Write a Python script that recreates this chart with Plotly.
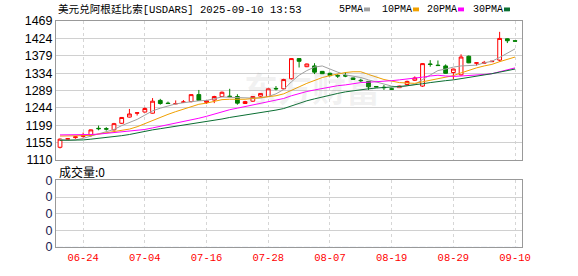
import pandas as pd
import plotly.graph_objects as go

# ---------------- data ----------------
dates = [d.strftime("%m-%d") for d in pd.bdate_range("2025-06-19", "2025-09-10")]

open_ = [1143,1164,1168,1171,1174,1192,1191,1188,1205,1221,
         1231,1234,1231,1264,1257,1255,1259,1261,1279,1259,
         1265,1274,1275,1274,1256,1262,1275,1274,1295,1294,
         1320,1372,1351,1353,1339,1334,1328,1328,1322,1316,
         1313,1300,1298,1294,1297,1305,1316,1301,1358,1355,
         1353,1336,1330,1378,1360,1360,1364,1368,1423,1418]
high = [1166,1167,1172,1181,1189,1199,1195,1206,1221,1242,
        1232,1246,1270,1268,1261,1264,1265,1280,1291,1264,
        1276,1287,1294,1280,1263,1275,1283,1295,1301,1320,
        1373,1373,1359,1360,1340,1336,1332,1337,1323,1320,
        1314,1300,1304,1295,1302,1315,1326,1360,1368,1367,
        1357,1346,1383,1380,1362,1366,1366,1441,1424,1418]
low = [1140,1164,1165,1168,1170,1187,1186,1186,1203,1220,
       1225,1233,1230,1253,1255,1254,1258,1259,1263,1255,
       1257,1273,1272,1253,1255,1260,1273,1273,1290,1293,
       1318,1349,1350,1332,1332,1326,1322,1324,1317,1311,
       1291,1298,1291,1292,1296,1304,1314,1299,1351,1353,
       1333,1318,1328,1360,1354,1359,1363,1364,1412,1417]
close = [1164,1165,1170,1174,1188,1191,1190,1204,1220,1229,
         1232,1243,1262,1256,1256,1256,1260,1279,1264,1263,
         1274,1285,1274,1257,1261,1274,1282,1294,1294,1318,
         1372,1365,1358,1337,1333,1328,1327,1327,1318,1315,
         1299,1299,1297,1293,1301,1313,1322,1359,1357,1354,
         1334,1345,1376,1361,1361,1362,1365,1424,1418,1417]

ma5 = [1164,1161,1162,1166,1172,1178,1183,1189,1199,1207,
       1215,1226,1237,1244,1250,1255,1258,1261,1263,1264,
       1268,1273,1272,1271,1270,1270,1270,1274,1281,1292,
       1312,1329,1341,1350,1353,1344,1337,1330,1327,1323,
       1317,1312,1306,1301,1298,1301,1305,1318,1330,1341,
       1345,1350,1353,1354,1355,1361,1365,1375,1386,1397]
ma10 = [1172,1172,1172,1173,1174,1177,1180,1183,1186,1190,
        1196,1204,1213,1222,1228,1235,1242,1249,1254,1257,
        1261,1266,1267,1267,1267,1269,1271,1273,1276,1281,
        1291,1299,1308,1316,1323,1328,1333,1336,1338,1338,
        1331,1324,1318,1314,1310,1309,1308,1312,1316,1319,
        1323,1328,1335,1342,1348,1353,1357,1364,1370,1376]
ma20 = [1175,1175,1175,1176,1176,1177,1179,1181,1183,1185,
        1187,1189,1193,1197,1201,1205,1209,1214,1218,1223,
        1229,1235,1240,1244,1248,1252,1257,1261,1265,1269,
        1276,1282,1287,1291,1295,1299,1302,1304,1307,1310,
        1311,1312,1313,1315,1317,1319,1321,1324,1327,1329,
        1327,1326,1327,1328,1329,1331,1333,1338,1343,1348]
ma30 = [1161,1161,1161,1162,1164,1166,1168,1171,1173,1176,
        1180,1185,1188,1191,1194,1197,1200,1203,1206,1209,
        1213,1216,1220,1223,1226,1229,1232,1236,1239,1243,
        1250,1256,1263,1268,1273,1277,1282,1286,1289,1292,
        1294,1296,1297,1299,1300,1302,1304,1307,1310,1313,
        1315,1317,1320,1324,1327,1330,1333,1337,1341,1345]
volume = [0] * len(dates)

price_ticks = [1110, 1154.875, 1199.75, 1244.625, 1289.5, 1334.375, 1379.25, 1424.125, 1469]
price_tick_labels = ["1110", "1155", "1199", "1244", "1289", "1334", "1379", "1424", "1469"]
x_tick_labels = ["06-24", "07-04", "07-16", "07-28", "08-07", "08-19", "08-29", "09-10"]
vol_ticks = [0, 1, 2, 3, 4]
vol_tick_labels = ["0", "0", "0", "0", "0"]

title_text = "美元兑阿根廷比索[USDARS] 2025-09-10 13:53"
vol_title = "成交量:0"
ma_names = ["5PMA", "10PMA", "20PMA", "30PMA"]
ma_colors = ["#a0a0a0", "#f0a000", "#ff00ff", "#0a6e32"]

# ---------------- figure ----------------
W, H = 578, 276
ML, MR, MT, MB = 56, 56, 21, 21
PW, PH = W - ML - MR, H - MT - MB

def px(x):
    return (x - ML) / PW

def py(y):
    return (H - MB - y) / PH

fig = go.Figure()

fig.add_trace(go.Candlestick(
    x=dates, open=open_, high=high, low=low, close=close,
    increasing=dict(line=dict(color="#ff0000", width=1), fillcolor="#ffffff"),
    decreasing=dict(line=dict(color="#008000", width=1), fillcolor="#008000"),
    whiskerwidth=0, xaxis="x", yaxis="y", showlegend=False, hoverinfo="skip",
))
for name, vals, col in zip(ma_names, [ma5, ma10, ma20, ma30], ma_colors):
    fig.add_trace(go.Scatter(x=dates, y=vals, mode="lines", name=name,
                             line=dict(color=col, width=1), xaxis="x", yaxis="y",
                             showlegend=False, hoverinfo="skip"))

fig.add_trace(go.Bar(x=dates, y=volume, xaxis="x2", yaxis="y2",
                     marker_color="#ff0000", showlegend=False, hoverinfo="skip"))

tickvals_x = [dates[dates.index(lbl)] for lbl in x_tick_labels]
xr = [-0.52, len(dates) - 0.1]

axis_common = dict(type="category", range=xr, showgrid=True, gridcolor="#d6d6d6",
                   griddash="3px,3px", gridwidth=1, tickvals=tickvals_x,
                   showline=True, linecolor="#999999", linewidth=1, mirror=True,
                   ticks="", zeroline=False, fixedrange=True)

top_bottom = py(165)
vol_top = py(186)

fig.update_layout(
    width=W, height=H,
    margin=dict(l=ML, r=MR, t=MT, b=MB, pad=0),
    paper_bgcolor="#ffffff", plot_bgcolor="#ffffff",
    boxgap=0.3,
    xaxis=dict(**axis_common, anchor="y", showticklabels=False,
               rangeslider=dict(visible=False)),
    xaxis2=dict(**axis_common, anchor="y2", matches="x", showticklabels=True,
                ticktext=x_tick_labels,
                tickfont=dict(family="Liberation Mono, DejaVu Sans Mono, monospace",
                              size=10.5, color="#ff0000")),
    yaxis=dict(domain=[top_bottom, 1], range=[1110, 1469], tickvals=price_ticks,
               ticktext=price_tick_labels, showgrid=True, gridcolor="#d0d0d0",
               showline=True, linecolor="#999999", mirror=True, ticks="",
               zeroline=False, tickfont=dict(family="Liberation Sans, Arial", size=12.5, color="#000"),
               fixedrange=True),
    yaxis2=dict(domain=[0, vol_top], range=[0, 4], tickvals=vol_ticks,
                ticktext=vol_tick_labels, showgrid=True, gridcolor="#d0d0d0",
                showline=True, linecolor="#999999", mirror=True, ticks="",
                zeroline=False, tickfont=dict(family="Liberation Sans, Arial", size=12.5, color="#1a1a50"),
                fixedrange=True),
    font=dict(family="Liberation Sans, Noto Sans CJK SC"),
)

annotations = []
annotations.append(dict(text=title_text, xref="paper", yref="paper", x=px(56), y=py(9),
                        xanchor="left", yanchor="middle", showarrow=False,
                        font=dict(family="Liberation Mono, Noto Sans CJK SC", size=10.6, color="#000")))
annotations.append(dict(text=vol_title, xref="paper", yref="paper", x=px(57), y=py(177),
                        xanchor="left", yanchor="middle", showarrow=False,
                        font=dict(family="Noto Sans CJK SC", size=12, color="#000")))
# watermark
annotations.append(dict(text="<b>东方财富</b>", xref="paper", yref="paper", x=px(312), y=py(90),
                        xanchor="center", yanchor="middle", showarrow=False,
                        font=dict(family="Noto Sans CJK SC", size=34, color="rgba(150,150,150,0.13)")))

legend_text_x = [337, 380, 425, 471]
shapes = []
for name, col, lx in zip(ma_names, ma_colors, legend_text_x):
    annotations.append(dict(text=name, xref="paper", yref="paper", x=px(lx), y=py(9),
                            xanchor="left", yanchor="middle", showarrow=False,
                            font=dict(family="Liberation Mono, DejaVu Sans Mono", size=10, color="#000")))
    mx = lx + 6 * len(name) + 3
    shapes.append(dict(type="rect", xref="paper", yref="paper",
                       x0=px(mx), x1=px(mx + 6), y0=py(11), y1=py(7),
                       line=dict(width=0), fillcolor=col))

fig.update_layout(annotations=annotations, shapes=shapes)

fig.write_html("out.html", config={"displayModeBar": False})
